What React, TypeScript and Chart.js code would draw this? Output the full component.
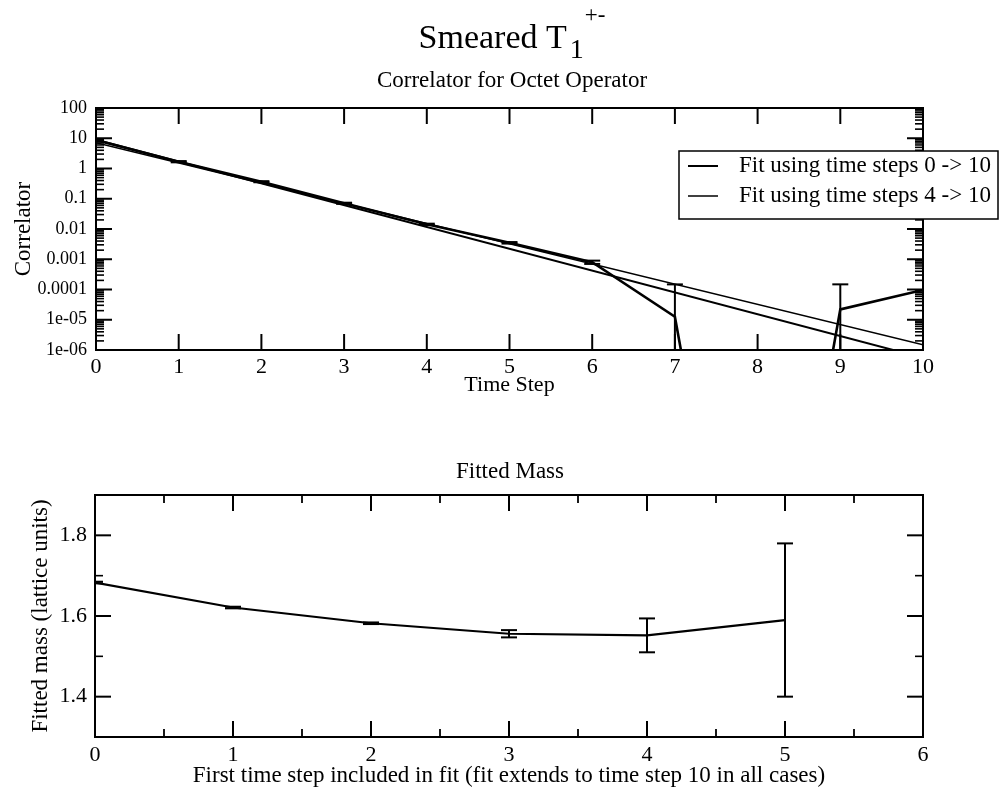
import React, { useEffect, useRef } from "react";
import { Chart, registerables } from "chart.js";

Chart.register(...registerables);

// ---------- data: top panel (correlator) ----------
const timeSteps = [0, 1, 2, 3, 4, 5, 6, 7, 8, 9, 10];
// value at t=8 is non-positive in the source (falls off the log axis); represented by a tiny value
const correlator = [8.7, 1.68, 0.366, 0.071, 0.0143, 0.0035, 8.0e-4, 1.26e-5, 1e-20, 2.2e-5, 9.6e-5];
const correlatorErr = [0.6, 0.08, 0.015, 0.003, 0.0007, 0.0002, 1.0e-4, 1.35e-4, 0, 1.26e-4, 0];
const fitTimes = [0, 10];
const fit0to10 = [8.9, 5.5e-7];
const fit4to10 = [7.1, 1.5e-6];
const legendLabels = ["Fit using time steps 0 -> 10", "Fit using time steps 4 -> 10"];
const yDecades = [1e-6, 1e-5, 1e-4, 1e-3, 1e-2, 0.1, 1, 10, 100];
const yDecadeLabels = ["1e-06", "1e-05", "0.0001", "0.001", "0.01", "0.1", "1", "10", "100"];
const topXMajor = [0, 1, 2, 3, 4, 5, 6, 7, 8, 9, 10];

// ---------- data: bottom panel (fitted mass) ----------
const firstStep = [0, 1, 2, 3, 4, 5];
const fittedMass = [1.683, 1.621, 1.582, 1.556, 1.552, 1.59];
const massErr = [0.002, 0.002, 0.002, 0.009, 0.042, 0.19];
const massXMajor = [0, 1, 2, 3, 4, 5, 6];
const massXMinor = [0.5, 1.5, 2.5, 3.5, 4.5, 5.5];
const massYMajor = [1.4, 1.6, 1.8];
const massYMinor = [1.5, 1.7];

const FONT = "'Liberation Serif', 'Times New Roman', serif";

function logMinor(): number[] {
  const out: number[] = [];
  for (let d = 0; d < yDecades.length - 1; d++) {
    for (let k = 2; k <= 9; k++) out.push(yDecades[d] * k);
  }
  return out;
}

function framePlugin(cfg: { xMajor: number[]; xMinor: number[]; yMajor: number[]; yMinor: number[] }) {
  return {
    id: "frameTicks",
    afterDatasetsDraw(chart: any) {
      const { ctx, chartArea: a, scales } = chart;
      const xs = scales.x, ys = scales.y;
      ctx.save();
      ctx.strokeStyle = "#000";
      const seg = (x1: number, y1: number, x2: number, y2: number, w: number) => {
        ctx.lineWidth = w;
        ctx.beginPath();
        ctx.moveTo(x1, y1);
        ctx.lineTo(x2, y2);
        ctx.stroke();
      };
      cfg.xMajor.forEach((v) => {
        const p = xs.getPixelForValue(v);
        seg(p, a.bottom, p, a.bottom - 16, 2);
        seg(p, a.top, p, a.top + 16, 2);
      });
      cfg.xMinor.forEach((v) => {
        const p = xs.getPixelForValue(v);
        seg(p, a.bottom, p, a.bottom - 8, 1.8);
        seg(p, a.top, p, a.top + 8, 1.8);
      });
      cfg.yMajor.forEach((v) => {
        const p = ys.getPixelForValue(v);
        seg(a.left, p, a.left + 16, p, 2);
        seg(a.right, p, a.right - 16, p, 2);
      });
      cfg.yMinor.forEach((v) => {
        const p = ys.getPixelForValue(v);
        seg(a.left, p, a.left + 8, p, 1.6);
        seg(a.right, p, a.right - 8, p, 1.6);
      });
      ctx.lineWidth = 2;
      ctx.strokeRect(a.left, a.top, a.right - a.left, a.bottom - a.top);
      ctx.restore();
    },
  };
}

const errorBarPlugin = {
  id: "errorBars",
  afterDatasetsDraw(chart: any) {
    const { ctx, chartArea: a, scales } = chart;
    const xs = scales.x, ys = scales.y;
    ctx.save();
    ctx.beginPath();
    ctx.rect(a.left, a.top, a.right - a.left, a.bottom - a.top);
    ctx.clip();
    ctx.strokeStyle = "#000";
    ctx.lineWidth = 2;
    chart.data.datasets.forEach((ds: any) => {
      if (!ds.errors) return;
      ds.data.forEach((pt: any, i: number) => {
        const e = ds.errors[i];
        if (!e) return;
        const px = xs.getPixelForValue(pt.x);
        const hi = pt.y + e;
        const lo = pt.y - e;
        const pyHi = ys.getPixelForValue(hi);
        const loOk = lo > 0 || ys.type !== "logarithmic";
        const pyLo = loOk ? ys.getPixelForValue(lo) : a.bottom + 20;
        ctx.beginPath();
        ctx.moveTo(px, pyHi);
        ctx.lineTo(px, pyLo);
        ctx.stroke();
        const cap = 8;
        ctx.beginPath();
        ctx.moveTo(px - cap, pyHi);
        ctx.lineTo(px + cap, pyHi);
        ctx.stroke();
        if (loOk) {
          ctx.beginPath();
          ctx.moveTo(px - cap, pyLo);
          ctx.lineTo(px + cap, pyLo);
          ctx.stroke();
        }
      });
    });
    ctx.restore();
  },
};

const topTextPlugin = {
  id: "topText",
  afterDraw(chart: any) {
    const { ctx } = chart;
    ctx.save();
    ctx.fillStyle = "#000";
    ctx.textBaseline = "alphabetic";
    ctx.textAlign = "left";
    ctx.font = `34px ${FONT}`;
    const main = "Smeared T";
    const w1 = ctx.measureText(main).width;
    ctx.font = `28px ${FONT}`;
    const w2 = ctx.measureText("1").width;
    ctx.font = `23px ${FONT}`;
    const w3 = ctx.measureText("+-").width;
    const total = w1 + 3 + w2 + 1 + w3;
    const x0 = 512 - total / 2;
    ctx.font = `34px ${FONT}`;
    ctx.fillText(main, x0, 48);
    ctx.font = `28px ${FONT}`;
    ctx.fillText("1", x0 + w1 + 3, 58);
    ctx.font = `23px ${FONT}`;
    ctx.fillText("+-", x0 + w1 + 3 + w2 + 1, 22);
    ctx.font = `23px ${FONT}`;
    ctx.textAlign = "center";
    ctx.fillText("Correlator for Octet Operator", 512, 87);

    // legend box
    const bx = 679, by = 151, bw = 319, bh = 68;
    ctx.fillStyle = "#fff";
    ctx.fillRect(bx, by, bw, bh);
    ctx.strokeStyle = "#000";
    ctx.lineWidth = 1.5;
    ctx.strokeRect(bx, by, bw, bh);
    const rows = [166, 196];
    chart.data.datasets
      .filter((ds: any) => ds.inLegend)
      .forEach((ds: any, i: number) => {
        ctx.strokeStyle = ds.borderColor;
        ctx.lineWidth = ds.borderWidth;
        ctx.beginPath();
        ctx.moveTo(688, rows[i]);
        ctx.lineTo(718, rows[i]);
        ctx.stroke();
        ctx.fillStyle = "#000";
        ctx.font = `23px ${FONT}`;
        ctx.textAlign = "left";
        ctx.textBaseline = "middle";
        ctx.fillText(ds.label, 739, rows[i]);
      });
    ctx.restore();
  },
};

const bottomTextPlugin = {
  id: "bottomText",
  afterDraw(chart: any) {
    const { ctx } = chart;
    ctx.save();
    ctx.fillStyle = "#000";
    ctx.font = `23px ${FONT}`;
    ctx.textAlign = "center";
    ctx.textBaseline = "alphabetic";
    ctx.fillText("Fitted Mass", 510, 78);
    ctx.restore();
  },
};

export default function App() {
  const topRef = useRef<HTMLCanvasElement>(null);
  const botRef = useRef<HTMLCanvasElement>(null);

  useEffect(() => {
    document.body.style.margin = "0";
    const topChart = new Chart(topRef.current as HTMLCanvasElement, {
      type: "line",
      data: {
        datasets: [
          {
            label: "Correlator",
            data: timeSteps.map((t, i) => ({ x: t, y: correlator[i] })),
            errors: correlatorErr,
            borderColor: "#000",
            borderWidth: 2.6,
            pointRadius: 0,
            tension: 0,
          } as any,
          {
            label: legendLabels[0],
            data: fitTimes.map((t, i) => ({ x: t, y: fit0to10[i] })),
            inLegend: true,
            borderColor: "#000",
            borderWidth: 2,
            pointRadius: 0,
          } as any,
          {
            label: legendLabels[1],
            data: fitTimes.map((t, i) => ({ x: t, y: fit4to10[i] })),
            inLegend: true,
            borderColor: "#000",
            borderWidth: 1.5,
            pointRadius: 0,
          } as any,
        ],
      },
      options: {
        animation: false,
        responsive: false,
        layout: { padding: { top: 108, right: 76, left: 0, bottom: 0 } },
        plugins: { legend: { display: false }, tooltip: { enabled: false }, title: { display: false } },
        scales: {
          x: {
            type: "linear",
            min: 0,
            max: 10,
            grid: { display: false, drawTicks: false },
            border: { display: false },
            afterBuildTicks: (s: any) => {
              s.ticks = topXMajor.map((v) => ({ value: v }));
            },
            afterFit: (s: any) => {
              s.height = 50;
            },
            ticks: { color: "#000", font: { family: FONT, size: 22 }, padding: 4, maxRotation: 0, autoSkip: false },
            title: { display: true, text: "Time Step", color: "#000", font: { family: FONT, size: 22 }, padding: { top: 0, bottom: 2 } },
          },
          y: {
            type: "logarithmic",
            min: 1e-6,
            max: 100,
            grid: { display: false, drawTicks: false },
            border: { display: false },
            afterBuildTicks: (s: any) => {
              s.ticks = yDecades.map((v) => ({ value: v }));
            },
            afterFit: (s: any) => {
              s.width = 96;
            },
            ticks: {
              color: "#000",
              font: { family: FONT, size: 18 },
              padding: 9,
              autoSkip: false,
              callback: (_v: any, i: number) => yDecadeLabels[i],
            },
            title: { display: true, text: "Correlator", color: "#000", font: { family: FONT, size: 23 }, padding: { top: 10, bottom: 0 } },
          },
        },
      } as any,
      plugins: [errorBarPlugin, framePlugin({ xMajor: topXMajor, xMinor: [], yMajor: yDecades, yMinor: logMinor() }), topTextPlugin],
    });

    const botChart = new Chart(botRef.current as HTMLCanvasElement, {
      type: "line",
      data: {
        datasets: [
          {
            label: "Fitted mass",
            data: firstStep.map((t, i) => ({ x: t, y: fittedMass[i] })),
            errors: massErr,
            borderColor: "#000",
            borderWidth: 2.2,
            pointRadius: 0,
            tension: 0,
          } as any,
        ],
      },
      options: {
        animation: false,
        responsive: false,
        layout: { padding: { top: 95, right: 76, left: 0, bottom: 0 } },
        plugins: { legend: { display: false }, tooltip: { enabled: false }, title: { display: false } },
        scales: {
          x: {
            type: "linear",
            min: 0,
            max: 6,
            grid: { display: false, drawTicks: false },
            border: { display: false },
            afterBuildTicks: (s: any) => {
              s.ticks = massXMajor.map((v) => ({ value: v }));
            },
            afterFit: (s: any) => {
              s.height = 58;
            },
            ticks: { color: "#000", font: { family: FONT, size: 22 }, padding: 5, maxRotation: 0, autoSkip: false },
            title: {
              display: true,
              text: "First time step included in fit (fit extends to time step 10 in all cases)",
              color: "#000",
              font: { family: FONT, size: 23 },
              padding: { top: 0, bottom: 5 },
            },
          },
          y: {
            type: "linear",
            min: 1.3,
            max: 1.9,
            grid: { display: false, drawTicks: false },
            border: { display: false },
            afterBuildTicks: (s: any) => {
              s.ticks = massYMajor.map((v) => ({ value: v }));
            },
            afterFit: (s: any) => {
              s.width = 95;
            },
            ticks: {
              color: "#000",
              font: { family: FONT, size: 22 },
              padding: 8,
              autoSkip: false,
              callback: (v: any) => Number(v).toFixed(1),
            },
            title: {
              display: true,
              text: "Fitted mass (lattice units)",
              color: "#000",
              font: { family: FONT, size: 23 },
              padding: { top: 27, bottom: 0 },
            },
          },
        },
      } as any,
      plugins: [errorBarPlugin, framePlugin({ xMajor: massXMajor, xMinor: massXMinor, yMajor: massYMajor, yMinor: massYMinor }), bottomTextPlugin],
    });

    return () => {
      topChart.destroy();
      botChart.destroy();
    };
  }, []);

  return (
    <div style={{ position: "fixed", left: 0, top: 0, width: 999, height: 795, background: "#fff" }}>
      <canvas ref={topRef} width={999} height={400} style={{ position: "absolute", left: 0, top: 0 }} />
      <canvas ref={botRef} width={999} height={395} style={{ position: "absolute", left: 0, top: 400 }} />
    </div>
  );
}
